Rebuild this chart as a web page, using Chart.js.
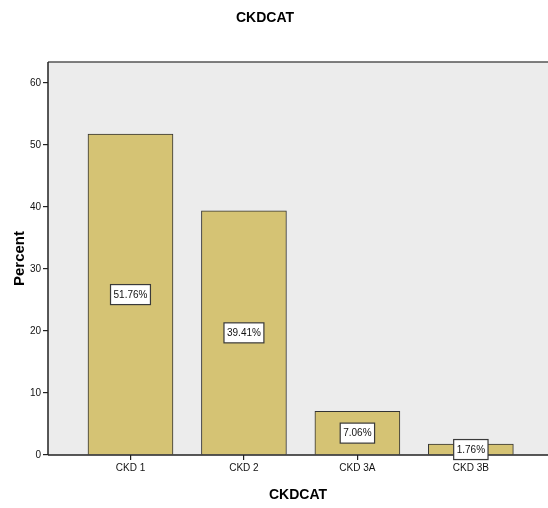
<!DOCTYPE html>
<html>
<head>
<meta charset="utf-8">
<script src="https://cdn.jsdelivr.net/npm/chart.js@4/dist/chart.umd.min.js"></script>
<style>
  html, body { margin: 0; padding: 0; background: #ffffff; }
  #wrap { width: 548px; height: 508px; position: relative; }
</style>
</head>
<body>
<div id="wrap"><canvas id="c" width="548" height="508"></canvas></div>
<script>
// CKD category distribution (percent of patients)
const categories = ['CKD 1', 'CKD 2', 'CKD 3A', 'CKD 3B'];
const percents = [51.76, 39.41, 7.06, 1.76];
const yTicks = [0, 10, 20, 30, 40, 50, 60];
const chartTitle = 'CKDCAT';
const xTitle = 'CKDCAT';
const yTitle = 'Percent';

const FONT = "'Liberation Sans', Arial, sans-serif";
const BAR_FILL = '#d5c374';
const PLOT_BG = '#ececec';

// Panel background, frame, titles and value boxes
const decor = {
  id: 'decor',
  beforeDatasetsDraw(chart) {
    const { ctx, chartArea: a } = chart;
    ctx.save();
    ctx.fillStyle = PLOT_BG;
    ctx.fillRect(a.left, a.top, a.right - a.left, a.bottom - a.top);
    ctx.restore();
  },
  afterDatasetsDraw(chart) {
    const { ctx, chartArea: a } = chart;
    ctx.save();
    // frame (open on the right, running to the canvas edge)
    ctx.strokeStyle = '#555555';
    ctx.lineWidth = 1.5;
    ctx.beginPath();
    ctx.moveTo(a.left, a.top); ctx.lineTo(a.right + 2, a.top);
    ctx.stroke();
    ctx.strokeStyle = '#222222';
    ctx.beginPath();
    ctx.moveTo(a.left, a.bottom); ctx.lineTo(a.right + 2, a.bottom);
    ctx.moveTo(a.left, a.top); ctx.lineTo(a.left, a.bottom);
    ctx.stroke();

    // value boxes at mid-height of each bar
    const meta = chart.getDatasetMeta(0);
    const ys = chart.scales.y;
    ctx.font = '10px ' + FONT;
    ctx.textAlign = 'center';
    ctx.textBaseline = 'middle';
    meta.data.forEach((bar, i) => {
      const v = percents[i];
      const txt = v.toFixed(2) + '%';
      const cy = ys.getPixelForValue(v / 2);
      const w = ctx.measureText(txt).width + 6;
      const h = 20;
      ctx.fillStyle = '#ffffff';
      ctx.fillRect(bar.x - w / 2, cy - h / 2, w, h);
      ctx.strokeStyle = '#3a3a3a';
      ctx.lineWidth = 1.2;
      ctx.strokeRect(bar.x - w / 2, cy - h / 2, w, h);
      ctx.fillStyle = '#111111';
      ctx.fillText(txt, bar.x, cy + 0.5);
    });

    // titles
    ctx.fillStyle = '#000000';
    ctx.font = 'bold 14px ' + FONT;
    ctx.fillText(chartTitle, 265, 18);
    ctx.fillText(xTitle, (a.left + a.right) / 2, 495);
    ctx.save();
    ctx.translate(20, (a.top + a.bottom) / 2);
    ctx.rotate(-Math.PI / 2);
    ctx.font = 'bold 15px ' + FONT;
    ctx.fillText(yTitle, 0, 0);
    ctx.restore();
    ctx.restore();
  }
};

new Chart(document.getElementById('c'), {
  type: 'bar',
  data: {
    datasets: [{
      data: categories.map((c, i) => ({ x: i, y: percents[i] })),
      backgroundColor: BAR_FILL,
      borderColor: '#333333',
      borderWidth: 1,
      barThickness: 85
    }]
  },
  options: {
    responsive: false,
    animation: false,
    devicePixelRatio: 1,
    layout: { padding: { top: 62, right: 0, left: 0, bottom: 0 } },
    plugins: { legend: { display: false }, tooltip: { enabled: false }, title: { display: false } },
    scales: {
      x: {
        type: 'linear',
        min: -0.727,
        max: 3.68,
        offset: false,
        afterBuildTicks(s) { s.ticks = categories.map((c, i) => ({ value: i })); },
        afterFit(s) { s.height = 53; },
        grid: { display: true, offset: false, drawOnChartArea: false, tickLength: 5, color: '#222222', lineWidth: 1.2 },
        border: { display: false },
        ticks: {
          autoSkip: false,
          maxRotation: 0,
          padding: 2,
          color: '#111111',
          font: { family: FONT, size: 10 },
          callback: (v) => categories[v] ?? ''
        }
      },
      y: {
        min: 0,
        max: 63.4,
        afterBuildTicks(s) { s.ticks = yTicks.map(v => ({ value: v })); },
        afterFit(s) { s.width = 48; },
        grid: { display: true, drawOnChartArea: false, tickLength: 5, color: '#222222', lineWidth: 1.2 },
        border: { display: false },
        ticks: {
          padding: 2,
          color: '#111111',
          font: { family: FONT, size: 10 }
        }
      }
    }
  },
  plugins: [decor]
});
</script>
</body>
</html>
